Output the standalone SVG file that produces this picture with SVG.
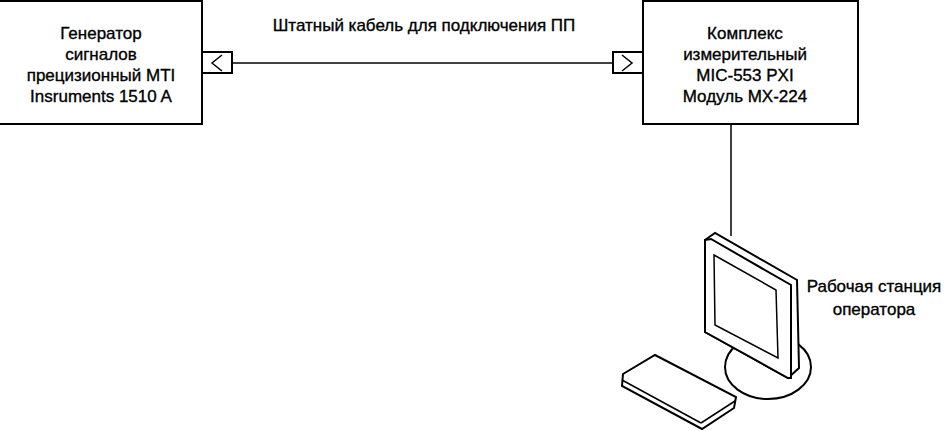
<svg xmlns="http://www.w3.org/2000/svg" width="951" height="431" viewBox="0 0 951 431">
<style>
.b{fill:#fff;stroke:#000;stroke-width:2}
.t{font-family:"Liberation Sans",Arial,sans-serif;font-size:17px;text-anchor:middle;fill:#000;stroke:#000;stroke-width:0.35}
.l{fill:none;stroke:#000;stroke-width:1.5}
</style>
<rect width="951" height="431" fill="#fff"/>
<g id="gen">
<rect class="b" x="-2" y="1" width="204" height="123"/>
<text class="t" x="101" y="39">Генератор</text>
<text class="t" x="101" y="60">сигналов</text>
<text class="t" x="101" y="81">прецизионный MTI</text>
<text class="t" x="101" y="102">Insruments 1510 A</text>
</g>
<g id="mic">
<rect class="b" x="643" y="1" width="215" height="123"/>
<text class="t" x="745" y="39">Комплекс</text>
<text class="t" x="745" y="60">измерительный</text>
<text class="t" x="745" y="81">MIC-553 PXI</text>
<text class="t" x="745" y="102">Модуль MX-224</text>
</g>
<g id="connectors">
<rect class="b" x="202" y="52" width="30" height="21"/>
<polyline class="l" points="222,55 212,63 222,71"/>
<rect class="b" x="613" y="52" width="30" height="21"/>
<polyline class="l" points="622,55 632,63 622,71"/>
<line class="l" x1="232" y1="63" x2="613" y2="63"/>
<text class="t" x="424" y="31">Штатный кабель для подключения ПП</text>
<line class="l" x1="731" y1="124" x2="731" y2="236"/>
</g>
<g id="ws">
<ellipse cx="768" cy="367" rx="43" ry="32" class="b" stroke-width="1.5"/>
<polygon class="b" points="705,240 715,233 797,280 799,368 788,378 705,332"/>
<polygon class="b" points="705,240 711,239 791,285 791,378 788,378 705,332" fill="#fff"/>
<polygon class="l" points="714,255 776,290 778,358 715,325"/>
<polygon class="b" points="623,374 655,355 736,397 734,408 702,429 622,386"/>
<line class="l" x1="622" y1="380" x2="701" y2="423"/>
<line class="l" x1="701" y1="423" x2="735" y2="401"/>
<text class="t" x="874" y="292">Рабочая станция</text>
<text class="t" x="874" y="315">оператора</text>
</g>
</svg>
